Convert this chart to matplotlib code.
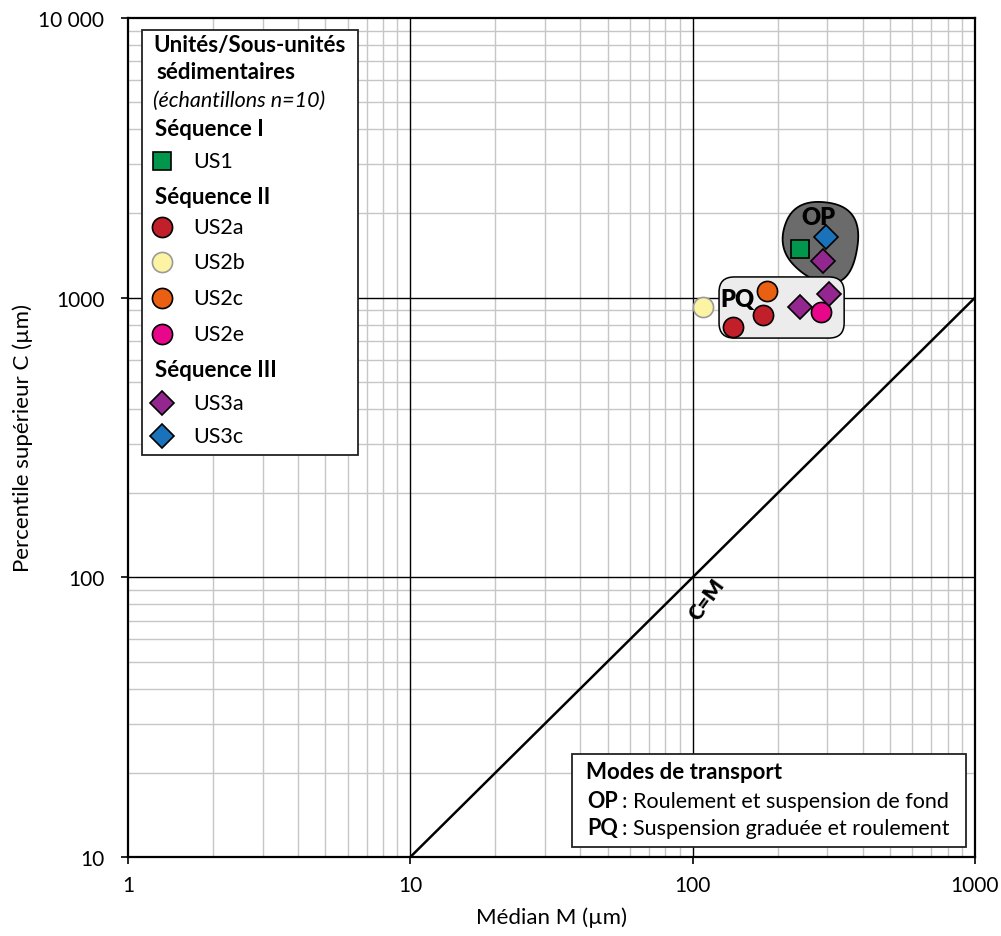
#!/usr/bin/env python
"""Passega C-M diagram of sedimentary units"""
import numpy as np
from matplotlib import pyplot as plt
from matplotlib.patches import Rectangle, FancyBboxPatch, Polygon

plt.rcParams['font.family'] = ['Lato', 'DejaVu Sans']

# samples: median M (um), upper percentile C (um)
units = ['US1', 'US2a', 'US2b', 'US2c', 'US2e', 'US3a', 'US3c']
median_m = {'US1': [240], 'US2a': [178, 139], 'US2b': [109], 'US2c': [184],
            'US2e': [284], 'US3a': [290, 240, 305], 'US3c': [296]}
percentile_c = {'US1': [1493], 'US2a': [869, 783], 'US2b': [924], 'US2c': [1059],
                'US2e': [886], 'US3a': [1356, 924, 1031], 'US3c': [1644]}
colors = {'US1': '#00964b', 'US2a': '#c1202b', 'US2b': '#fcf3a3', 'US2c': '#ea6012',
          'US2e': '#e8068a', 'US3a': '#93278f', 'US3c': '#1a73ba'}
markers = {'US1': 's', 'US2a': 'o', 'US2b': 'o', 'US2c': 'o', 'US2e': 'o',
           'US3a': 'D', 'US3c': 'D'}
sizes = {'s': 13, 'o': 14.5, 'D': 12.5}

# C=M reference line
line_cm = [10, 1000]

# transport mode zones (outline control points, data units)
op_zone = [(232, 2280), (400, 2090), (368, 1130), (262, 1130), (198, 1520)]
pq_zone = [(124, 717), (344, 1186)]

x_ticks = [1, 10, 100, 1000]
x_labels = ['1', '10', '100', '1000']
y_ticks = [10, 100, 1000, 10000]
y_labels = ['10', '100', '1000', '10 000']

sequences = [('Séquence I', ['US1']),
             ('Séquence II', ['US2a', 'US2b', 'US2c', 'US2e']),
             ('Séquence III', ['US3a', 'US3c'])]


def chaikin(points, n=5):
    'smooth a closed polygon by corner cutting'
    p = np.array(points, dtype=float)
    for _ in range(n):
        q = np.roll(p, -1, axis=0)
        out = []
        for a, b in zip(p, q):
            out.append(0.75 * a + 0.25 * b)
            out.append(0.25 * a + 0.75 * b)
        p = np.array(out)
    return p


fig = plt.figure(figsize=(10.01, 9.37), dpi=100)
ax = fig.add_axes([128 / 1001, 79 / 937, 847 / 1001, 839 / 937])
ax.set_xscale('log')
ax.set_yscale('log')
ax.set_xlim(1, 1000)
ax.set_ylim(10, 10000)

# grid
for d in [1, 10, 100]:
    for k in range(2, 10):
        ax.axvline(d * k, color='#c6c6c6', lw=1, zorder=0)
for d in [10, 100, 1000]:
    for k in range(2, 10):
        ax.axhline(d * k, color='#c6c6c6', lw=1, zorder=0)
for v in [10, 100]:
    ax.axvline(v, color='black', lw=1, zorder=1)
for v in [100, 1000]:
    ax.axhline(v, color='black', lw=1, zorder=1)

ax.plot(line_cm, line_cm, color='black', lw=1.8, zorder=2)
ax.text(112, 84, 'C=M', rotation=54, fontsize=15, fontweight='heavy',
        ha='center', va='center', zorder=3)

# zones
sm = 10 ** chaikin(np.log10(np.array(op_zone)), 5)
ax.add_patch(Polygon(sm, closed=True, facecolor='#6b6b6b', edgecolor='black', lw=1.3, zorder=3))
x0 = np.log10(pq_zone[0][0]) / 3
x1 = np.log10(pq_zone[1][0]) / 3
y0 = (np.log10(pq_zone[0][1]) - 1) / 3
y1 = (np.log10(pq_zone[1][1]) - 1) / 3
ax.add_patch(FancyBboxPatch((x0, y0), x1 - x0, y1 - y0, boxstyle='round,pad=0,rounding_size=0.018',
                            transform=ax.transAxes, facecolor='#ececec', edgecolor='black',
                            lw=1.1, zorder=3))
ax.text(278, 1941, 'OP', fontsize=17, fontweight='heavy', ha='center', va='center', zorder=4)
ax.text(144, 989, 'PQ', fontsize=17, fontweight='heavy', ha='center', va='center', zorder=4)

# samples
for u in units:
    m = markers[u]
    ec = '#9a9a9a' if u == 'US2b' else 'black'
    ax.plot(median_m[u], percentile_c[u], linestyle='none', marker=m, markersize=sizes[m],
            markerfacecolor=colors[u], markeredgecolor=ec, markeredgewidth=1.2, zorder=5, clip_on=False)

# axes style
for s in ax.spines.values():
    s.set_linewidth(1.6)
ax.set_xticks(x_ticks)
ax.set_xticklabels(x_labels)
ax.set_yticks(y_ticks)
ax.set_yticklabels(y_labels)
ax.minorticks_off()
ax.tick_params(length=5, width=1.2, labelsize=15)
ax.tick_params(axis='x', pad=8)
ax.tick_params(axis='y', pad=12)
ax.set_xlabel('Médian M (µm)', fontsize=16, labelpad=8)
ax.set_ylabel('Percentile supérieur C (µm)', fontsize=16, labelpad=4)


def fx(px):
    return (px - 128) / 847


def fy(py):
    return (858 - py) / 839


# units legend
ax.add_patch(Rectangle((fx(142), fy(456)), fx(358) - fx(142), fy(31) - fy(456), transform=ax.transAxes,
                       facecolor='white', edgecolor='#222222', lw=1.3, zorder=6))
tk = dict(transform=ax.transAxes, va='center', ha='left', zorder=7)
ax.text(fx(153), fy(46), 'Unités/Sous-unités', fontsize=16, fontweight='bold', **tk)
ax.text(fx(156), fy(73), 'sédimentaires', fontsize=16, fontweight='bold', **tk)
ax.text(fx(153), fy(101), '(échantillons n=10)', fontsize=15.5, style='italic', **tk)
rows = {'Séquence I': 130, 'US1': 162, 'Séquence II': 198, 'US2a': 228, 'US2b': 263,
        'US2c': 299, 'US2e': 335, 'Séquence III': 371, 'US3a': 404, 'US3c': 437}
for title, members in sequences:
    ax.text(fx(155), fy(rows[title]), title, fontsize=16, fontweight='bold', **tk)
    for u in members:
        m = markers[u]
        ec = '#9a9a9a' if u == 'US2b' else 'black'
        ax.plot([fx(162)], [fy(rows[u])], transform=ax.transAxes, linestyle='none', marker=m,
                markersize=sizes[m], markerfacecolor=colors[u], markeredgecolor=ec,
                markeredgewidth=1.2, zorder=7, clip_on=False)
        ax.text(fx(193), fy(rows[u]), u, fontsize=15.5, **tk)

# transport legend
ax.add_patch(Rectangle((fx(572), fy(848)), fx(966) - fx(572), fy(755) - fy(848), transform=ax.transAxes,
                       facecolor='white', edgecolor='#222222', lw=1.3, zorder=6))
ax.text(fx(586), fy(773), 'Modes de transport', fontsize=16, fontweight='bold', **tk)
for key, desc, py in [('OP', 'Roulement et suspension de fond', 802),
                      ('PQ', 'Suspension graduée et roulement', 829)]:
    t = ax.text(fx(587), fy(py), key, fontsize=15.5, fontweight='bold', **tk)
    ax.annotate(': ' + desc, xy=(1, 0.5), xycoords=t, xytext=(3, 0), textcoords='offset points',
                va='center', ha='left', fontsize=15.5, zorder=7)

fig.savefig('out.png', dpi=100)
